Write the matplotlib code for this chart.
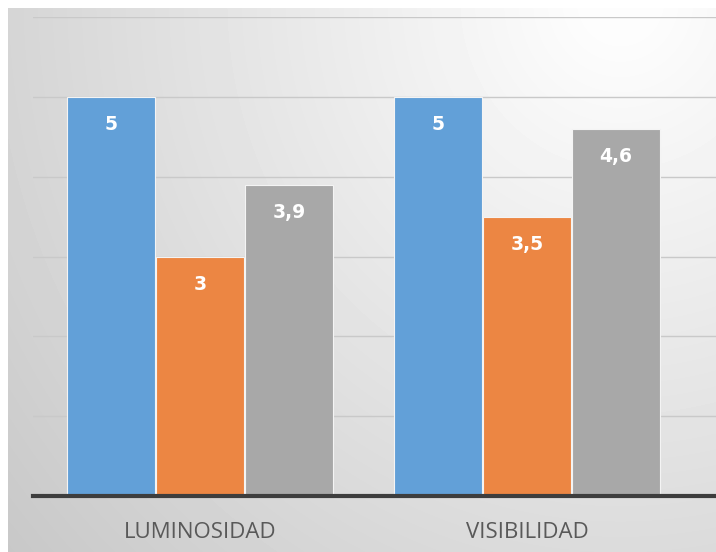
import numpy as np
import matplotlib.pyplot as plt

# data
categories = ["LUMINOSIDAD", "VISIBILIDAD"]
serie_1 = [5, 5]
serie_2 = [3, 3.5]
serie_3 = [3.9, 4.6]

colors = ["#62A0D8", "#EC8643", "#A8A8A8"]

fig = plt.figure(figsize=(7.16, 5.52), dpi=100)

# radial grey background, lightest near the top right
bg = fig.add_axes([8/716, 0, 1 - 8/716, 1 - 8/552], zorder=-10)
yy, xx = np.mgrid[8:552, 8:716]
dist = np.hypot((xx - 620) / 0.95, yy)
shade = np.clip(255 - 0.065 * dist, 195, 253) / 255
bg.imshow(shade, cmap="gray", vmin=0, vmax=1, aspect="auto",
          extent=[0, 1, 0, 1], interpolation="bilinear")
bg.axis("off")

ax = fig.add_axes([33/716, 1 - 496/552, 1 - 33/716, (496 - 17)/552])
ax.patch.set_alpha(0)

x = np.arange(len(categories))
w = 0.27
off = 0.272
for i, (vals, c) in enumerate(zip([serie_1, serie_2, serie_3], colors)):
    bars = ax.bar(x + (i - 1) * off, vals, width=w, color=c,
                  edgecolor="#f4f4f4", linewidth=0.8, zorder=3)
    for b, v in zip(bars, vals):
        lab = f"{v:g}".replace(".", ",")
        ax.annotate(lab, (b.get_x() + b.get_width() / 2, v),
                    xytext=(0, -20), textcoords="offset points",
                    ha="center", va="center", color="white",
                    fontsize=13.5, fontweight="bold", family="DejaVu Sans",
                    zorder=4)

ax.set_ylim(0, 6)
ax.set_xlim(-0.511, 1.578)
ax.set_yticks(np.arange(1, 7))
ax.set_yticklabels([])
ax.grid(axis="y", color="#c9c9c9", linewidth=1, zorder=0)

for s in ["top", "right", "left"]:
    ax.spines[s].set_visible(False)
ax.spines["bottom"].set_color("#3d3d3d")
ax.spines["bottom"].set_linewidth(3)
ax.spines["bottom"].set_zorder(5)

ax.set_xticks(x)
ax.set_xticklabels(categories, fontsize=16, color="#595959", family="Open Sans")
ax.tick_params(axis="both", length=0, pad=19)

fig.savefig("out.png", dpi=100)
